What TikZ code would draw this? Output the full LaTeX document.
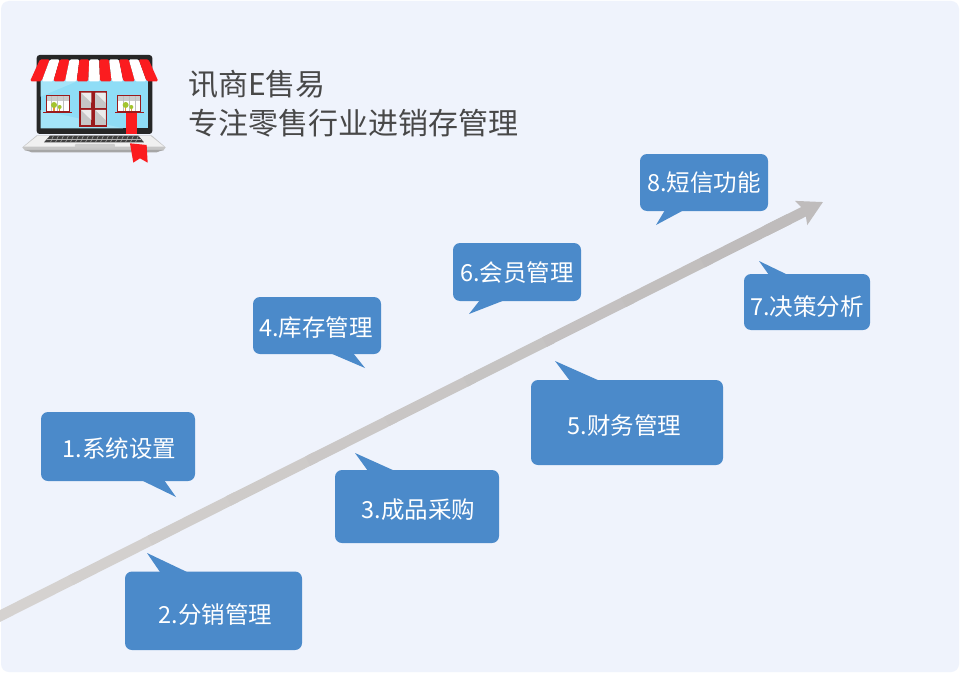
\documentclass[tikz,border=0pt]{standalone}
\usepackage{fontspec}
\setmainfont{Noto Sans CJK SC}
\usetikzlibrary{arrows.meta,calc}

\definecolor{pagebg}{HTML}{EFF3FC}
\definecolor{bubblebg}{HTML}{4B8ACA}
\definecolor{titlegray}{HTML}{484848}
\definecolor{arrowlight}{HTML}{D5D2D0}
\definecolor{arrowdark}{HTML}{BFBCBC}
\definecolor{awningred}{HTML}{FB1C1F}
\definecolor{framered}{HTML}{9A1A1C}
\definecolor{screenblue}{HTML}{8FDDF6}
\definecolor{screenlight}{HTML}{A4E4F8}
\definecolor{plantgreen}{HTML}{A3C42F}
\definecolor{potorange}{HTML}{E8963A}

\tikzset{
  bubble/.style={fill=bubblebg, text=white, rounded corners=7pt, inner sep=0pt,
    font=\fontsize{23.5}{27}\selectfont},
  drop/.style={text height=18pt+2*#1pt, text depth=0pt},
  tail/.style={fill=bubblebg},
  title/.style={anchor=west, inner sep=0pt, text=titlegray,
    font=\fontsize{30}{36}\selectfont},
  pane/.style={fill=gray!45},
}

\begin{document}
\begin{tikzpicture}[x=1pt,y=-1pt]
  \clip (0,0) rectangle (960,674);
  \fill[white] (0,0) rectangle (960,674);
  \fill[pagebg, rounded corners=8pt] (1,1) rectangle (959,672);

  % Laptop icon, in the scale of a 3x crop
  \begin{scope}[x=0.3333pt,y=-0.3333pt,yshift=-30pt]
    % base
    \fill[gray!45] (110,316) -- (455,316) -- (497,352) -- (490,362) -- (75,362) -- (67,352) -- cycle;
    \fill[gray!12] (112,318) -- (452,318) -- (492,350) -- (72,350) -- cycle;
    \fill[gray!70] (75,360) -- (490,360) -- (470,367) -- (95,367) -- cycle;
    \fill[black!75] (150,317) -- (415,317) -- (432,337) -- (132,337) -- cycle;
    \foreach \k in {160,175,...,415}
      \draw[gray!60, line width=0.5pt] (\k,318) -- (\k-8,336);
    \draw[gray!60, line width=0.5pt] (142,327) -- (424,327);
    \fill[gray!40, rounded corners=1pt] (225,342) rectangle (345,353);
    % screen
    \fill[black!85, rounded corners=3pt] (110,75) rectangle (457,312);
    \fill[screenblue] (122,150) rectangle (443,295);
    \fill[screenlight] (122,150) -- (240,150) -- (122,200) -- cycle;
    \fill[screenlight] (122,240) -- (370,295) -- (122,295) -- cycle;
    % awning
    \foreach \i in {0,...,10} {
      \pgfmathsetmacro{\tl}{120+29.6*\i}
      \pgfmathsetmacro{\tr}{120+29.6*(\i+1)}
      \pgfmathsetmacro{\bl}{90+35*\i}
      \pgfmathsetmacro{\br}{90+35*(\i+1)}
      \pgfmathparse{int(mod(\i,2))}
      \ifnum\pgfmathresult=0
        \fill[awningred, rounded corners=1.5pt] (\tl,88) -- (\tr,88) -- (\br,154) -- (\bl,154) -- cycle;
      \else
        \fill[white, rounded corners=1.5pt] (\tl,88) -- (\tr,88) -- (\br,154) -- (\bl,154) -- cycle;
      \fi
    }
    % door
    \fill[framered] (237,182) rectangle (322,292);
    \foreach \px/\py in {243/188,286/188,243/240,286/240} {
      \fill[pane] (\px,\py) rectangle ++(31,46);
      \fill[gray!15] (\px,\py) -- ++(31,30) -- ++(0,-30) -- cycle;
    }
    % windows
    \foreach \wx in {137,352} {
      \fill[framered] (\wx,195) rectangle ++(72,52);
      \fill[white] (\wx+3,198) rectangle ++(66,46);
      \fill[gray!40] (\wx+3,198) rectangle ++(66,14);
      \foreach \bar in {16,34,52}
        \fill[gray!50] (\wx+\bar,198) rectangle ++(2,46);
      \fill[potorange] (\wx+23,232) rectangle ++(4,12);
      \fill[potorange] (\wx+40,236) rectangle ++(3,8);
      \fill[plantgreen] (\wx+25,225) circle (9);
      \fill[plantgreen] (\wx+42,231) circle (6);
      \fill[framered] (\wx-7,246) rectangle ++(86,4);
    }
    % ribbon
    \fill[awningred] (377,250) rectangle (412,312);
    \fill[awningred] (390,340) -- (440,345) -- (443,398) -- (420,385) -- (400,398) -- cycle;
  \end{scope}

  % Title
  \node[title] (name) at (188,84) {讯商E售易};
  \node[title] (slogan) at (188,123) {专注零售行业进销存管理};

  % Long arrow
  \coordinate (arrowstart) at (-8,620);
  \coordinate (arrowend) at (823,202);
  \foreach \t in {0,1,...,9} {
    \pgfmathsetmacro{\mixval}{100-\t*11}
    \pgfmathsetmacro{\from}{\t*0.095}
    \pgfmathsetmacro{\upto}{(\t+1.1)*0.095}
    \draw[arrowlight!\mixval!arrowdark, line width=10.6pt]
      ($(arrowstart)!\from!(arrowend)$) -- ($(arrowstart)!\upto!(arrowend)$);
  }
  \draw[arrowdark, line width=10.6pt, -{Stealth[length=24pt,width=26pt,inset=4pt]}]
    ($(arrowstart)!0.93!(arrowend)$) -- (arrowend);

  % Bubbles
  \node[bubble, drop=2, minimum width=154pt, minimum height=69pt] (sys) at (118,446.5) {\kern3pt 1.系统设置};
  \fill[tail] (141,480) -- (176,497) -- (164,480) -- cycle;

  \node[bubble, drop=4, minimum width=177pt, minimum height=78.5pt] (dist) at (213.5,610.75) {\kern4pt 2.分销管理};
  \fill[tail] (160,572) -- (147,553) -- (187,572) -- cycle;

  \node[bubble, drop=3, minimum width=164pt, minimum height=73pt] (buy) at (417,506.5) {\kern3pt 3.成品采购};
  \fill[tail] (368,471) -- (355,453) -- (395,471) -- cycle;

  \node[bubble, drop=2, minimum width=128pt, minimum height=57pt] (stock) at (317,325.5) {4.库存管理\kern2pt};
  \fill[tail] (330,353) -- (365,368) -- (353,353) -- cycle;

  \node[bubble, drop=3, minimum width=192pt, minimum height=85pt] (money) at (627,422.5) {5.财务管理\kern5pt};
  \fill[tail] (570,381) -- (555,361) -- (600,381) -- cycle;

  \node[bubble, drop=0, minimum width=128pt, minimum height=58pt] (member) at (517,272) {6.会员管理};
  \fill[tail] (480,300) -- (469,314) -- (505,300) -- cycle;

  \node[bubble, drop=4, minimum width=126pt, minimum height=56pt] (decide) at (807,302) {7.决策分析};
  \fill[tail] (769,275) -- (759,261) -- (788,275) -- cycle;

  \node[bubble, drop=0, minimum width=128pt, minimum height=57pt] (sms) at (704,182.5) {8.短信功能};
  \fill[tail] (665,210) -- (656,225) -- (684,210) -- cycle;
\end{tikzpicture}
\end{document}
